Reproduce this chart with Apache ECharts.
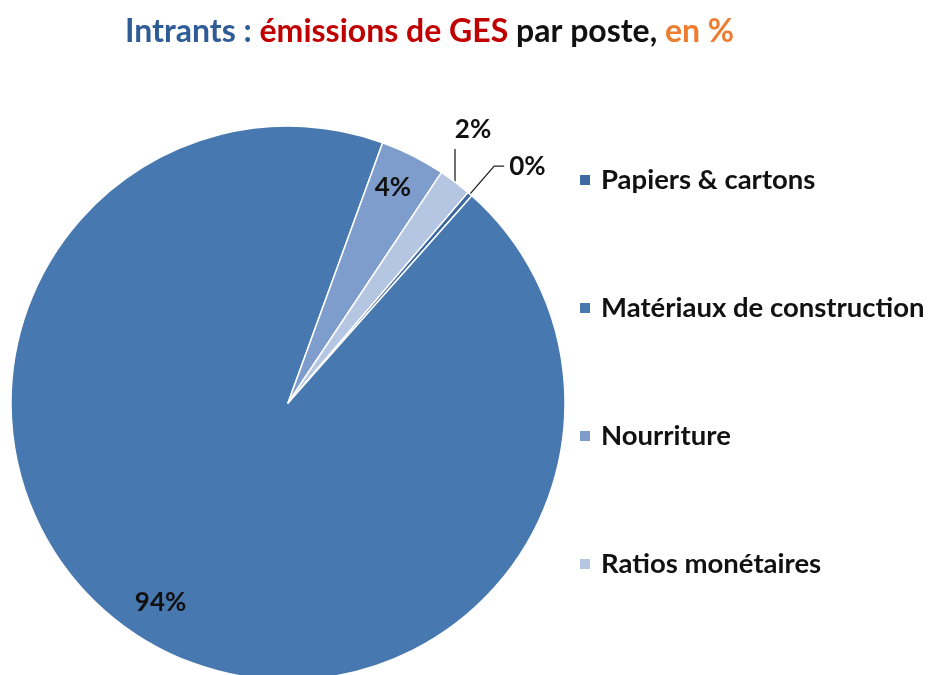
<!DOCTYPE html>
<html>
<head>
<meta charset="utf-8">
<script src="https://cdn.jsdelivr.net/npm/echarts@6/dist/echarts.min.js"></script>
<style>
html,body{margin:0;padding:0;background:#fff;}
#c{width:929px;height:675px;}
</style>
</head>
<body>
<div id="c"></div>
<script>
var categories = ["Papiers & cartons", "Matériaux de construction", "Nourriture", "Ratios monétaires"];
var values = [0.3, 94.0, 3.8, 1.9];
var colors = ["#3D68A1", "#4878B0", "#7E9CCC", "#B5C6E3"];

var chart = echarts.init(document.getElementById('c'), null, {renderer: 'canvas'});
var FONT = 'Lato';
var labelCfg = [
  {show: true, position: 'outside'},
  {show: true, position: 'inside', offset: [-55, 78]},
  {show: true, position: 'inside', offset: [41, -89]},
  {show: true, position: 'outside'}
];
var lineCfg = [
  {show: true, length: 37, length2: 10, lineStyle: {color: '#222', width: 1.3}},
  {show: false},
  {show: false},
  {show: true, length: 34, length2: 0, lineStyle: {color: '#222', width: 1.3}}
];
var data = categories.map(function (n, i) {
  return {
    name: n, value: values[i],
    itemStyle: {color: colors[i]},
    label: labelCfg[i],
    labelLine: lineCfg[i]
  };
});
chart.setOption({
  animation: false,
  title: {
    text: '{a|Intrants : }{b|émissions de GES}{c| par poste, }{d|en %}',
    left: 120,
    top: 11,
    textStyle: {
      rich: {
        a: {fontFamily: FONT, fontWeight: 'bold', fontSize: 32, color: '#2F5C97'},
        b: {fontFamily: FONT, fontWeight: 'bold', fontSize: 32, color: '#C00000'},
        c: {fontFamily: FONT, fontWeight: 'bold', fontSize: 32, color: '#111'},
        d: {fontFamily: FONT, fontWeight: 'bold', fontSize: 32, color: '#ED7D31'}
      }
    }
  },
  legend: {
    orient: 'vertical',
    left: 573,
    top: 161,
    itemGap: 100,
    itemWidth: 12,
    itemHeight: 12,
    icon: 'rect',
    data: categories,
    textStyle: {fontFamily: FONT, fontWeight: 'bold', fontSize: 27.5, color: '#111', padding: [0, 0, 0, 5]}
  },
  series: [{
    type: 'pie',
    center: [288, 403],
    radius: [0, 277],
    startAngle: 49.5,
    clockwise: true,
    avoidLabelOverlap: false,
    minShowLabelAngle: 0,
    itemStyle: {borderColor: '#fff', borderWidth: 1.5},
    label: {
      fontFamily: FONT, fontWeight: 'bold', fontSize: 26, color: '#111',
      formatter: function (p) { return Math.round(p.value) + '%'; }
    },
    labelLayout: function (p) {
      var o = {hideOverlap: false, moveOverlap: null};
      if (p.dataIndex === 3 && p.labelLinePoints) {
        var s = p.labelLinePoints[0];
        var top = [s[0], s[1] - 33];
        o.labelLinePoints = [s, top, top];
        o.x = s[0] + 18;
        o.y = s[1] - 52;
        o.align = 'center';
        o.verticalAlign = 'middle';
      }
      return o;
    },
    emphasis: {disabled: true},
    data: data
  }]
});
</script>
</body>
</html>
